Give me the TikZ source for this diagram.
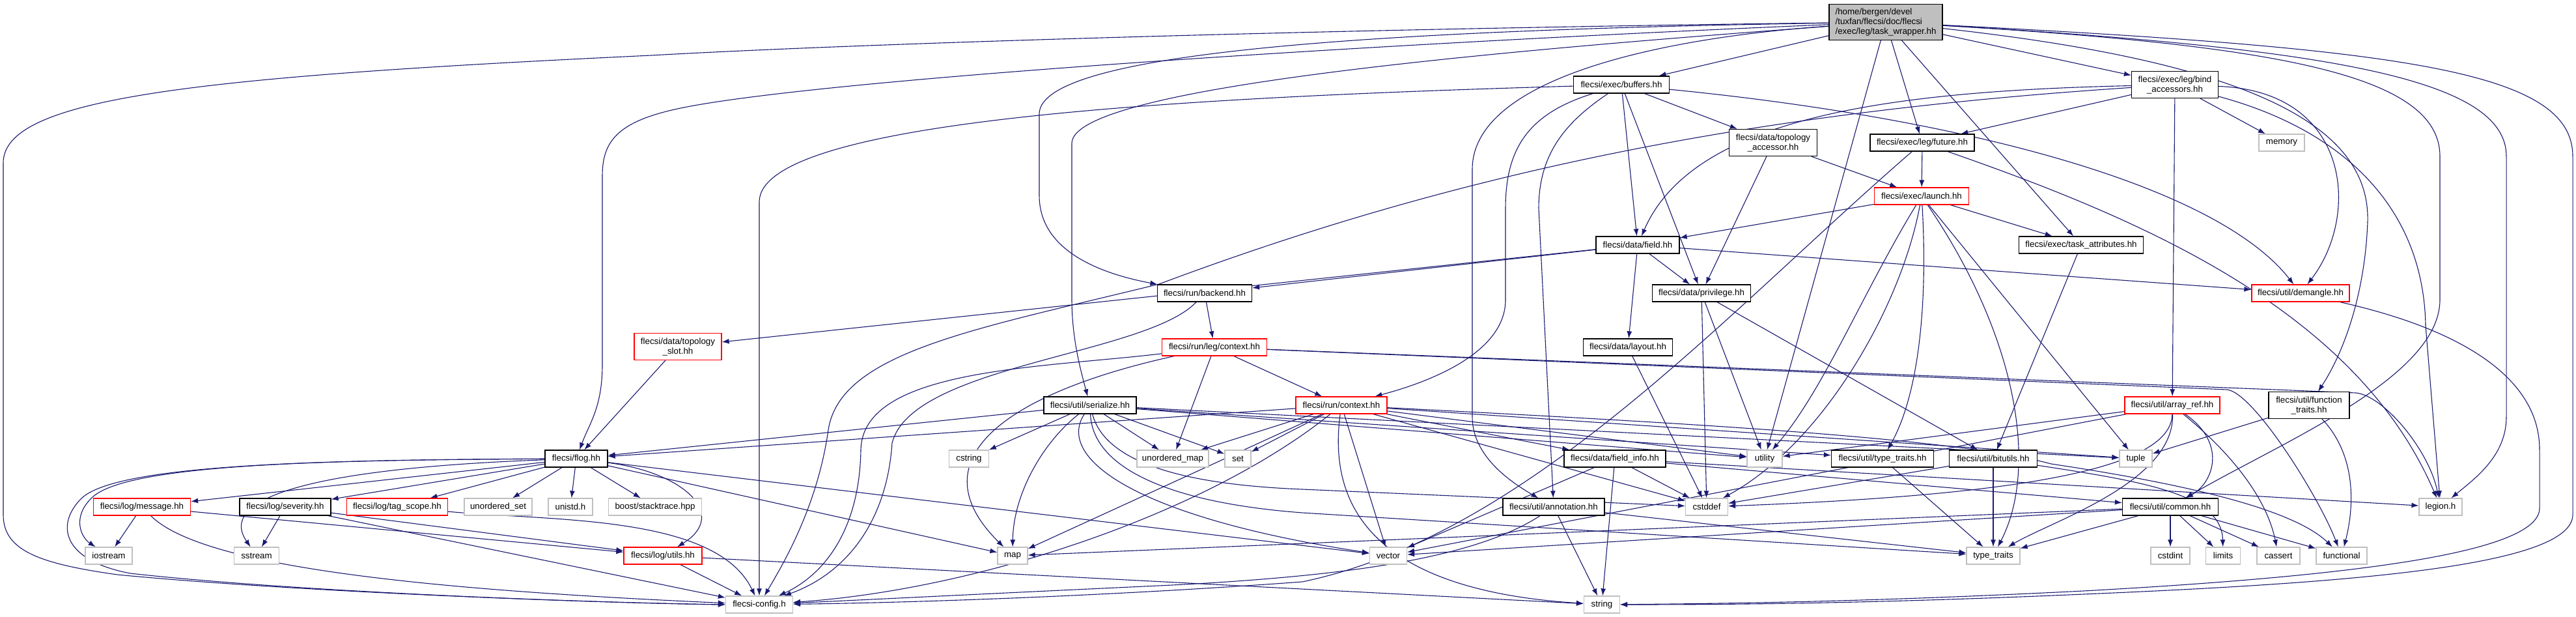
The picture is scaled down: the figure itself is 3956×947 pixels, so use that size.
\documentclass[tikz,border=0pt]{standalone}
\usepackage{fontspec}
\setmainfont{Liberation Sans}
\usetikzlibrary{arrows.meta}
\definecolor{edgec}{RGB}{25,25,112}
\definecolor{grayb}{RGB}{191,191,191}
\definecolor{redb}{RGB}{255,0,0}
\pgfdeclarelayer{edges}
\pgfsetlayers{edges,main}
\tikzset{
 box/.style={draw, rectangle, inner sep=0pt, minimum height=26pt, font=\fontsize{13.33}{15}\selectfont, line width=1.2pt, text=black, fill=white},
 bk/.style={box, draw=black},
 rd/.style={box, draw=redb},
 gr/.style={box, draw=grayb},
 two/.style={align=center, minimum height=41pt},
 ed/.style={draw=edgec, line width=1.1pt, -{Latex[length=11pt,width=8pt]}},
}
\begin{document}
\begin{tikzpicture}[x=1pt,y=-1pt]
\useasboundingbox (0,0) rectangle (3956,947);
% ---------- nodes ----------
\node[bk, fill=grayb, align=left, minimum width=174pt, minimum height=55pt] (R) at (2896,34) {/home/bergen/devel\\/tuxfan/flecsi/doc/flecsi\\/exec/leg/task\_wrapper.hh};
\node[bk, minimum width=147pt] (BUF) at (2490,130) {flecsi/exec/buffers.hh};
\node[bk, two, minimum width=133pt] (BIND) at (3340,130) {flecsi/exec/leg/bind\\\_accessors.hh};
\node[bk, two, minimum width=135pt] (TACC) at (2723,219) {flecsi/data/topology\\\_accessor.hh};
\node[bk, minimum width=160pt] (FUT) at (2952,219) {flecsi/exec/leg/future.hh};
\node[gr, minimum width=70pt] (MEM) at (3504,219) {memory};
\node[rd, minimum width=145pt] (LAUNCH) at (2951,301) {flecsi/exec/launch.hh};
\node[bk, minimum width=128pt] (FIELD) at (2515,376) {flecsi/data/field.hh};
\node[bk, minimum width=191pt] (TATTR) at (3196,376) {flecsi/exec/task\_attributes.hh};
\node[bk, minimum width=145pt] (BACK) at (1850,450) {flecsi/run/backend.hh};
\node[bk, minimum width=151pt] (PRIV) at (2613,450) {flecsi/data/privilege.hh};
\node[rd, minimum width=150pt] (DEM) at (3533,450) {flecsi/util/demangle.hh};
\node[rd, two, minimum width=134pt] (SLOT) at (1041,532) {flecsi/data/topology\\\_slot.hh};
\node[rd, minimum width=161pt] (LCTX) at (1865,533) {flecsi/run/leg/context.hh};
\node[bk, minimum width=137pt] (LAYOUT) at (2500,533) {flecsi/data/layout.hh};
\node[bk, minimum width=142pt] (SER) at (1674,622) {flecsi/util/serialize.hh};
\node[rd, minimum width=140pt] (CTX) at (2060,622) {flecsi/run/context.hh};
\node[rd, minimum width=146pt] (AREF) at (3336,622) {flecsi/util/array\_ref.hh};
\node[bk, two, minimum width=124pt] (FTR) at (3546,622) {flecsi/util/function\\\_traits.hh};
\node[bk, minimum width=96pt] (FLOG) at (885,704) {flecsi/flog.hh};
\node[gr, minimum width=61pt] (CSTRING) at (1488,704) {cstring};
\node[gr, minimum width=110pt] (UMAP) at (1801,704) {unordered\_map};
\node[gr, minimum width=40pt] (SET) at (1901,704) {set};
\node[bk, minimum width=156pt] (FINFO) at (2480,704) {flecsi/data/field\_info.hh};
\node[gr, minimum width=54pt] (UTIL) at (2710,704) {utility};
\node[bk, minimum width=157pt] (UTT) at (2891,704) {flecsi/util/type\_traits.hh};
\node[bk, minimum width=135pt] (BITS) at (3061,704) {flecsi/util/bitutils.hh};
\node[gr, minimum width=50pt] (TUPLE) at (3280,704) {tuple};
\node[rd, minimum width=149pt] (MSG) at (218,778) {flecsi/log/message.hh};
\node[bk, minimum width=140pt] (SEV) at (438,778) {flecsi/log/severity.hh};
\node[rd, minimum width=155pt] (TAG) at (610,778) {flecsi/log/tag\_scope.hh};
\node[gr, minimum width=104pt] (USET) at (765,778) {unordered\_set};
\node[gr, minimum width=68pt] (UNISTD) at (876,778) {unistd.h};
\node[gr, minimum width=143pt] (BOOST) at (1006,778) {boost/stacktrace.hpp};
\node[bk, minimum width=156pt] (ANN) at (2386,778) {flecsi/util/annotation.hh};
\node[gr, minimum width=65pt] (CSTDDEF) at (2621,778) {cstddef};
\node[bk, minimum width=147pt] (COMMON) at (3333,778) {flecsi/util/common.hh};
\node[gr, minimum width=66pt] (LEGION) at (3748,778) {legion.h};
\node[gr, minimum width=72pt] (IOS) at (167,853) {iostream};
\node[gr, minimum width=69pt] (SST) at (394,853) {sstream};
\node[rd, minimum width=120pt] (LUTILS) at (1018,853) {flecsi/log/utils.hh};
\node[gr, minimum width=46pt] (MAP) at (1555,853) {map};
\node[gr, minimum width=57pt] (VECTOR) at (2132,853) {vector};
\node[gr, minimum width=82pt] (TT) at (3061,853) {type\_traits};
\node[gr, minimum width=60pt] (CSTDINT) at (3333,853) {cstdint};
\node[gr, minimum width=53pt] (LIMITS) at (3414,853) {limits};
\node[gr, minimum width=66pt] (CASSERT) at (3499,853) {cassert};
\node[gr, minimum width=78pt] (FUNC) at (3596,853) {functional};
\node[gr, minimum width=103pt] (CONFIG) at (1166,928) {flecsi-config.h};
\node[gr, minimum width=55pt] (STRING) at (2460,928) {string};
\begin{pgfonlayer}{edges}
% ---------- root ----------
\draw[ed] (R) -- (BUF);
\draw[ed] (R) -- (BIND);
\draw[ed] (R) -- (FUT);
\draw[ed] (R) -- (TATTR);
\draw[ed] (R) -- (UTIL);
\draw[ed] (R) .. controls (2000,45) and (1300,68) .. (1000,85) .. controls (300,118) and (5,150) .. (5,250) -- (5,790) .. controls (5,845) and (60,865) .. (180,882) .. controls (450,908) and (900,925) .. (CONFIG.west);
\draw[ed] (R) .. controls (2000,72) and (1250,125) .. (1050,165) .. controls (950,185) and (925,215) .. (925,270) -- (925,560) .. controls (925,625) and (905,650) .. (FLOG);
\draw[ed] (R) .. controls (2000,48) and (1596,90) .. (1596,175) -- (1596,300) .. controls (1596,385) and (1690,420) .. (BACK);
\draw[ed] (R) .. controls (2200,85) and (1646,140) .. (1646,220) -- (1646,460) .. controls (1646,520) and (1660,570) .. (SER);
\draw[ed] (R) .. controls (2550,58) and (2261,120) .. (2261,260) -- (2261,640) .. controls (2261,700) and (2320,740) .. (ANN);
\draw[ed] (R) .. controls (3700,75) and (3951,110) .. (3951,240) -- (3951,790) .. controls (3951,870) and (3600,895) .. (3200,912) .. controls (2900,925) and (2700,928) .. (STRING);
\draw[ed] (R) .. controls (3600,75) and (3849,125) .. (3849,240) -- (3849,640) .. controls (3849,700) and (3800,735) .. (LEGION);
\draw[ed] (R) .. controls (3500,70) and (3747,115) .. (3747,240) -- (3747,460) .. controls (3747,580) and (3500,680) .. (COMMON);
\draw[ed] (R) .. controls (3450,95) and (3640,190) .. (3636,340) .. controls (3632,450) and (3600,540) .. (FTR);
% ---------- buffers ----------
\draw[ed] (BUF) .. controls (1800,150) and (1166,185) .. (1166,310) -- (CONFIG);
\draw[ed] (BUF) .. controls (2345,175) and (2312,230) .. (2312,320) -- (2312,460) .. controls (2312,540) and (2200,585) .. (CTX);
\draw[ed] (BUF) .. controls (2400,190) and (2363,240) .. (2363,320) -- (ANN);
\draw[ed] (BUF) -- (FIELD);
\draw[ed] (BUF) -- (PRIV);
\draw[ed] (BUF) -- (TACC);
\draw[ed] (BUF) .. controls (3000,180) and (3400,280) .. (DEM);
% ---------- bind accessors ----------
\draw[ed] (BIND) .. controls (2900,140) and (2600,180) .. (FIELD);
\draw[ed] (BIND) -- (FUT);
\draw[ed] (BIND) -- (AREF);
\draw[ed] (BIND) -- (MEM);
\draw[ed] (BIND) .. controls (3610,140) and (3625,330) .. (DEM);
\draw[ed] (BIND) .. controls (3600,200) and (3722,320) .. (3725,500) -- (LEGION);
\draw[ed] (BIND) .. controls (2700,172) and (2250,260) .. (1780,436) .. controls (1500,505) and (1290,540) .. (1272,660) .. controls (1255,780) and (1200,870) .. (CONFIG);
% ---------- topology accessor / future / launch ----------
\draw[ed] (TACC) -- (PRIV);
\draw[ed] (TACC) -- (LAUNCH);
\draw[ed] (FUT) -- (LAUNCH);
\draw[ed] (FUT) .. controls (3300,340) and (3620,480) .. (LEGION);
\draw[ed] (FUT) .. controls (2650,480) and (2350,820) .. (2000,893) .. controls (1700,915) and (1400,925) .. (CONFIG);
\draw[ed] (LAUNCH) -- (FIELD);
\draw[ed] (LAUNCH) -- (TATTR);
\draw[ed] (LAUNCH) .. controls (2860,450) and (2800,600) .. (UTIL);
\draw[ed] (LAUNCH) .. controls (2920,470) and (2800,680) .. (CSTDDEF);
\draw[ed] (LAUNCH) .. controls (2960,450) and (2950,600) .. (UTT);
\draw[ed] (LAUNCH) .. controls (3100,520) and (3130,720) .. (TT);
\draw[ed] (LAUNCH) -- (TUPLE);
% ---------- field / attributes / backend / privilege ----------
\draw[ed] (FIELD) -- (BACK);
\draw[ed] (FIELD) -- (SLOT);
\draw[ed] (FIELD) -- (PRIV);
\draw[ed] (FIELD) -- (LAYOUT);
\draw[ed] (FIELD) -- (DEM);
\draw[ed] (TATTR) -- (BITS);
\draw[ed] (BACK) -- (LCTX);
\draw[ed] (BACK) .. controls (1760,545) and (1400,560) .. (1370,680) .. controls (1362,800) and (1300,880) .. (CONFIG);
\draw[ed] (PRIV) -- (UTIL);
\draw[ed] (PRIV) -- (CSTDDEF);
\draw[ed] (PRIV) -- (BITS);
\draw[ed] (SLOT) -- (FLOG);
% ---------- legion context ----------
\draw[ed] (LCTX) -- (CTX);
\draw[ed] (LCTX) -- (UMAP);
\draw[ed] (LCTX) .. controls (1600,565) and (1325,565) .. (1322,690) .. controls (1320,820) and (1260,885) .. (CONFIG);
\draw[ed] (LCTX) .. controls (1560,600) and (1400,700) .. (MAP);
\draw[ed] (LCTX) -- (3420,598) .. controls (3460,602) and (3560,760) .. (FUNC);
\draw[ed] (LCTX) -- (3618,603) .. controls (3660,607) and (3730,690) .. (LEGION);
\draw[ed] (LAYOUT) -- (CSTDDEF);
% ---------- serialize ----------
\draw[ed] (SER) -- (FLOG);
\draw[ed] (SER) -- (CSTRING);
\draw[ed] (SER) -- (UMAP);
\draw[ed] (SER) -- (SET);
\draw[ed] (SER) -- (UTIL);
\draw[ed] (SER) -- (UTT);
\draw[ed] (SER) -- (TUPLE);
\draw[ed] (SER) .. controls (1600,680) and (1556,760) .. (MAP);
\draw[ed] (SER) .. controls (1620,705) and (1750,795) .. (VECTOR);
\draw[ed] (SER) .. controls (1678,720) and (1800,772) .. (2000,787) -- (TT);
\draw[ed] (SER) .. controls (1700,720) and (1850,745) .. (2000,751) -- (CSTDDEF);
% ---------- run context ----------
\draw[ed] (CTX) -- (FLOG);
\draw[ed] (CTX) -- (UMAP);
\draw[ed] (CTX) -- (SET);
\draw[ed] (CTX) -- (MAP);
\draw[ed] (CTX) -- (VECTOR);
\draw[ed] (CTX) -- (CSTDDEF);
\draw[ed] (CTX) -- (FINFO);
\draw[ed] (CTX) -- (UTIL);
\draw[ed] (CTX) -- (TUPLE);
\draw[ed] (CTX) .. controls (2600,650) and (3000,672) .. (3150,712) .. controls (3350,742) and (3520,780) .. (FUNC);
\draw[ed] (CTX) .. controls (1850,790) and (1500,905) .. (CONFIG);
\draw[ed] (CTX) .. controls (2040,770) and (2100,905) .. (STRING);
% ---------- array_ref / function_traits ----------
\draw[ed] (AREF) -- (UTIL);
\draw[ed] (AREF) -- (VECTOR);
\draw[ed] (AREF) .. controls (3420,680) and (3400,740) .. (COMMON);
\draw[ed] (AREF) .. controls (3420,690) and (3480,760) .. (CASSERT);
\draw[ed] (AREF) .. controls (3340,740) and (3150,800) .. (TT);
\draw[ed] (AREF) .. controls (3335,720) and (3100,760) .. (CSTDDEF);
\draw[ed] (FTR) -- (TUPLE);
\draw[ed] (FTR) .. controls (3620,700) and (3615,780) .. (FUNC);
% ---------- flog ----------
\draw[ed] (FLOG) -- (MSG);
\draw[ed] (FLOG) -- (SEV);
\draw[ed] (FLOG) -- (TAG);
\draw[ed] (FLOG) -- (USET);
\draw[ed] (FLOG) -- (UNISTD);
\draw[ed] (FLOG) -- (BOOST);
\draw[ed] (FLOG) -- (MAP);
\draw[ed] (FLOG) -- (VECTOR);
\draw[ed] (FLOG) .. controls (500,718) and (330,760) .. (SST);
\draw[ed] (FLOG) .. controls (500,706) and (190,712) .. (140,765) .. controls (110,795) and (125,825) .. (IOS);
\draw[ed] (FLOG) .. controls (500,706) and (180,712) .. (125,765) .. controls (85,805) and (95,860) .. (200,880) .. controls (450,908) and (900,925) .. (CONFIG.west);
\draw[ed] (FLOG) .. controls (1050,725) and (1120,790) .. (LUTILS);
% ---------- field_info / bitutils / type_traits ----------
\draw[ed] (FINFO) -- (STRING);
\draw[ed] (FINFO) -- (VECTOR);
\draw[ed] (FINFO) -- (CSTDDEF);
\draw[ed] (FINFO) -- (COMMON);
\draw[ed] (FINFO) -- (LEGION);
\draw[ed] (UTT) -- (TT);
\draw[ed] (BITS) -- (CSTDDEF);
\draw[ed] (BITS) -- (TT);
\draw[ed] (BITS) .. controls (3300,740) and (3412,760) .. (LIMITS);
% ---------- log ----------
\draw[ed] (MSG) -- (IOS);
\draw[ed] (MSG) -- (LUTILS);
\draw[ed] (MSG) .. controls (310,870) and (650,905) .. (CONFIG);
\draw[ed] (SEV) -- (SST);
\draw[ed] (SEV) -- (LUTILS);
\draw[ed] (SEV) -- (CONFIG);
\draw[ed] (TAG) .. controls (850,800) and (1100,790) .. (CONFIG);
\draw[ed] (LUTILS) -- (CONFIG);
\draw[ed] (LUTILS) -- (STRING);
% ---------- annotation / common ----------
\draw[ed] (ANN) -- (STRING);
\draw[ed] (ANN) -- (TT);
\draw[ed] (ANN) .. controls (2260,860) and (2050,885) .. (1800,898) .. controls (1500,912) and (1300,922) .. (CONFIG);
\draw[ed] (COMMON) -- (TT);
\draw[ed] (COMMON) -- (CSTDINT);
\draw[ed] (COMMON) -- (LIMITS);
\draw[ed] (COMMON) -- (CASSERT);
\draw[ed] (COMMON) -- (FUNC);
\draw[ed] (COMMON) -- (MAP);
\draw[ed] (COMMON) -- (VECTOR);
\draw[ed] (DEM) .. controls (3800,510) and (3900,590) .. (3900,690) -- (3900,780) .. controls (3900,850) and (3600,885) .. (3200,907) .. controls (2900,922) and (2700,926) .. (STRING);
\end{pgfonlayer}
\end{tikzpicture}
\end{document}
